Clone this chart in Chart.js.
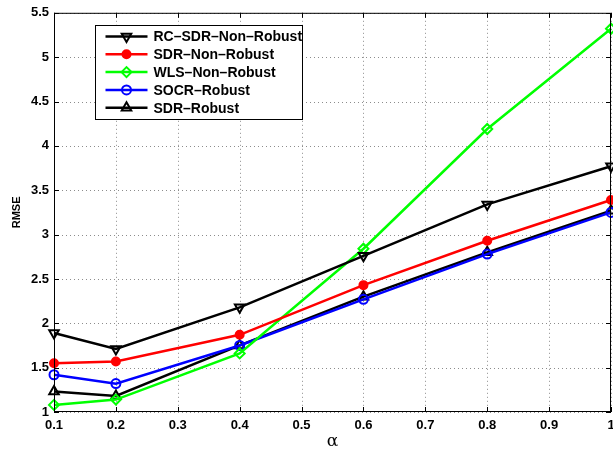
<!DOCTYPE html>
<html>
<head>
<meta charset="utf-8">
<script src="https://cdn.jsdelivr.net/npm/chart.js@4"></script>
<style>
  html, body { margin: 0; padding: 0; background: #fff; }
  #wrap { width: 613px; height: 449px; }
</style>
</head>
<body>
<div id="wrap"><canvas id="rmse"></canvas></div>
<script>
// ── Data ──
const alphaValues = [0.1, 0.2, 0.4, 0.6, 0.8, 1.0];
const rcSdrNonRobust = [1.89, 1.71, 2.18, 2.76, 3.34, 3.77];
const sdrNonRobust   = [1.55, 1.57, 1.87, 2.43, 2.93, 3.39];
const wlsNonRobust   = [1.08, 1.14, 1.66, 2.84, 4.19, 5.32];
const socrRobust     = [1.42, 1.32, 1.75, 2.27, 2.78, 3.25];
const sdrRobust      = [1.23, 1.18, 1.75, 2.30, 2.80, 3.27];
const seriesNames = ['RC–SDR–Non–Robust', 'SDR–Non–Robust', 'WLS–Non–Robust', 'SOCR–Robust', 'SDR–Robust'];
const xTicks = [0.1, 0.2, 0.3, 0.4, 0.5, 0.6, 0.7, 0.8, 0.9, 1];
const yTicks = [1, 1.5, 2, 2.5, 3, 3.5, 4, 4.5, 5, 5.5];

const TICK_FONT = { family: 'Liberation Sans, Arial', size: 13, weight: 'bold' };

function series(label, values, color, style, fill, radius, rotation) {
  return {
    label,
    data: alphaValues.map((a, i) => ({ x: a, y: values[i] })),
    borderColor: color,
    backgroundColor: fill,
    pointBackgroundColor: fill,
    pointBorderColor: color,
    pointBorderWidth: 2,
    pointStyle: style,
    pointRotation: rotation || 0,
    pointRadius: radius,
    borderWidth: 2.5,
    tension: 0,
    clip: 8,
  };
}

const datasets = [
  series(seriesNames[0], rcSdrNonRobust, '#000000', 'triangle', 'rgba(255,255,255,0)', 5.5, 180),
  series(seriesNames[1], sdrNonRobust, '#ff0000', 'circle', '#ff0000', 4),
  series(seriesNames[2], wlsNonRobust, '#00ff00', 'rectRot', 'rgba(255,255,255,0)', 5),
  series(seriesNames[3], socrRobust, '#0000ff', 'circle', 'rgba(255,255,255,0)', 4.5),
  series(seriesNames[4], sdrRobust, '#000000', 'triangle', 'rgba(255,255,255,0)', 5.5),
];

// ── MATLAB-style dotted grid, frame, inward ticks and x labels ──
const framePlugin = {
  id: 'frame',
  beforeDatasetsDraw(chart) {
    const { ctx, chartArea: a, scales } = chart;
    ctx.save();
    ctx.strokeStyle = '#8c8c8c';
    ctx.lineWidth = 1;
    ctx.setLineDash([1, 3]);
    ctx.beginPath();
    xTicks.forEach(t => {
      const px = Math.round(scales.x.getPixelForValue(t)) + 0.5;
      ctx.moveTo(px, a.top); ctx.lineTo(px, a.bottom);
    });
    yTicks.forEach(t => {
      const py = Math.round(scales.y.getPixelForValue(t)) + 0.5;
      ctx.moveTo(a.left, py); ctx.lineTo(a.right, py);
    });
    ctx.stroke();
    ctx.restore();
  },
  afterDatasetsDraw(chart) {
    const { ctx, chartArea: a, scales } = chart;
    ctx.save();
    ctx.strokeStyle = '#000';
    ctx.lineWidth = 1;
    ctx.strokeRect(a.left + 0.5, a.top + 0.5, a.right - a.left - 1, a.bottom - a.top - 1);
    ctx.beginPath();
    xTicks.forEach(t => {
      const px = Math.round(scales.x.getPixelForValue(t)) + 0.5;
      ctx.moveTo(px, a.bottom); ctx.lineTo(px, a.bottom - 5);
      ctx.moveTo(px, a.top); ctx.lineTo(px, a.top + 5);
    });
    yTicks.forEach(t => {
      const py = Math.round(scales.y.getPixelForValue(t)) + 0.5;
      ctx.moveTo(a.left, py); ctx.lineTo(a.left + 5, py);
      ctx.moveTo(a.right, py); ctx.lineTo(a.right - 5, py);
    });
    ctx.stroke();
    // x tick labels (drawn here so the last label does not shrink the plot)
    ctx.fillStyle = '#000';
    ctx.font = 'bold 13px "Liberation Sans", Arial';
    ctx.textAlign = 'center';
    ctx.textBaseline = 'top';
    xTicks.forEach(t => {
      ctx.fillText(String(t), scales.x.getPixelForValue(t), a.bottom + 7);
    });
    ctx.restore();
  },
};

// ── Legend box with line + marker samples ──
const legendPlugin = {
  id: 'boxLegend',
  afterDraw(chart) {
    const { ctx } = chart;
    const box = { x: 95.5, y: 25.5, w: 207, h: 94 };
    ctx.save();
    ctx.fillStyle = '#fff';
    ctx.strokeStyle = '#000';
    ctx.lineWidth = 1;
    ctx.fillRect(box.x, box.y, box.w, box.h);
    ctx.strokeRect(box.x, box.y, box.w, box.h);
    chart.data.datasets.forEach((ds, i) => {
      const cy = box.y + 11 + i * 17.8;
      ctx.strokeStyle = ds.borderColor;
      ctx.lineWidth = ds.borderWidth;
      ctx.beginPath();
      ctx.moveTo(box.x + 10, cy);
      ctx.lineTo(box.x + 52, cy);
      ctx.stroke();
      ctx.lineWidth = ds.pointBorderWidth;
      ctx.fillStyle = ds.pointBackgroundColor;
      Chart.helpers.drawPoint(ctx, {
        pointStyle: ds.pointStyle,
        rotation: ds.pointRotation,
        radius: ds.pointRadius,
        borderWidth: ds.pointBorderWidth,
      }, box.x + 31, cy);
      ctx.fillStyle = '#000';
      ctx.font = 'bold 14px "Liberation Sans", Arial';
      ctx.textBaseline = 'middle';
      ctx.fillText(ds.label, box.x + 58, cy + 1);
    });
    ctx.restore();
  },
};

new Chart(document.getElementById('rmse'), {
  type: 'line',
  data: { datasets },
  options: {
    responsive: true,
    maintainAspectRatio: false,
    animation: false,
    layout: { autoPadding: false, padding: { top: 12, right: 2, left: 10, bottom: 0 } },
    plugins: {
      legend: { display: false },
      tooltip: { enabled: false },
    },
    scales: {
      x: {
        type: 'linear',
        min: 0.1,
        max: 1,
        afterBuildTicks: s => { s.ticks = xTicks.map(v => ({ value: v })); },
        afterFit: s => { s.height = 37; },
        grid: { display: false, drawTicks: false },
        border: { display: false },
        ticks: { display: false },
        title: {
          display: true,
          text: 'α',
          color: '#000',
          font: { family: 'DejaVu Serif, serif', size: 17 },
          padding: { top: 0, bottom: -3 },
        },
      },
      y: {
        type: 'linear',
        min: 1,
        max: 5.5,
        afterBuildTicks: s => { s.ticks = yTicks.map(v => ({ value: v })); },
        afterFit: s => { s.width = 44; },
        grid: { display: false, drawTicks: false },
        border: { display: false },
        ticks: {
          color: '#000',
          font: TICK_FONT,
          padding: 5,
          callback: v => String(v),
        },
        title: {
          display: true,
          text: 'RMSE',
          color: '#000',
          font: { family: 'Liberation Sans, Arial', size: 11, weight: 'bold' },
          padding: { top: 0, bottom: 0 },
        },
      },
    },
  },
  plugins: [framePlugin, legendPlugin],
});
</script>
</body>
</html>
